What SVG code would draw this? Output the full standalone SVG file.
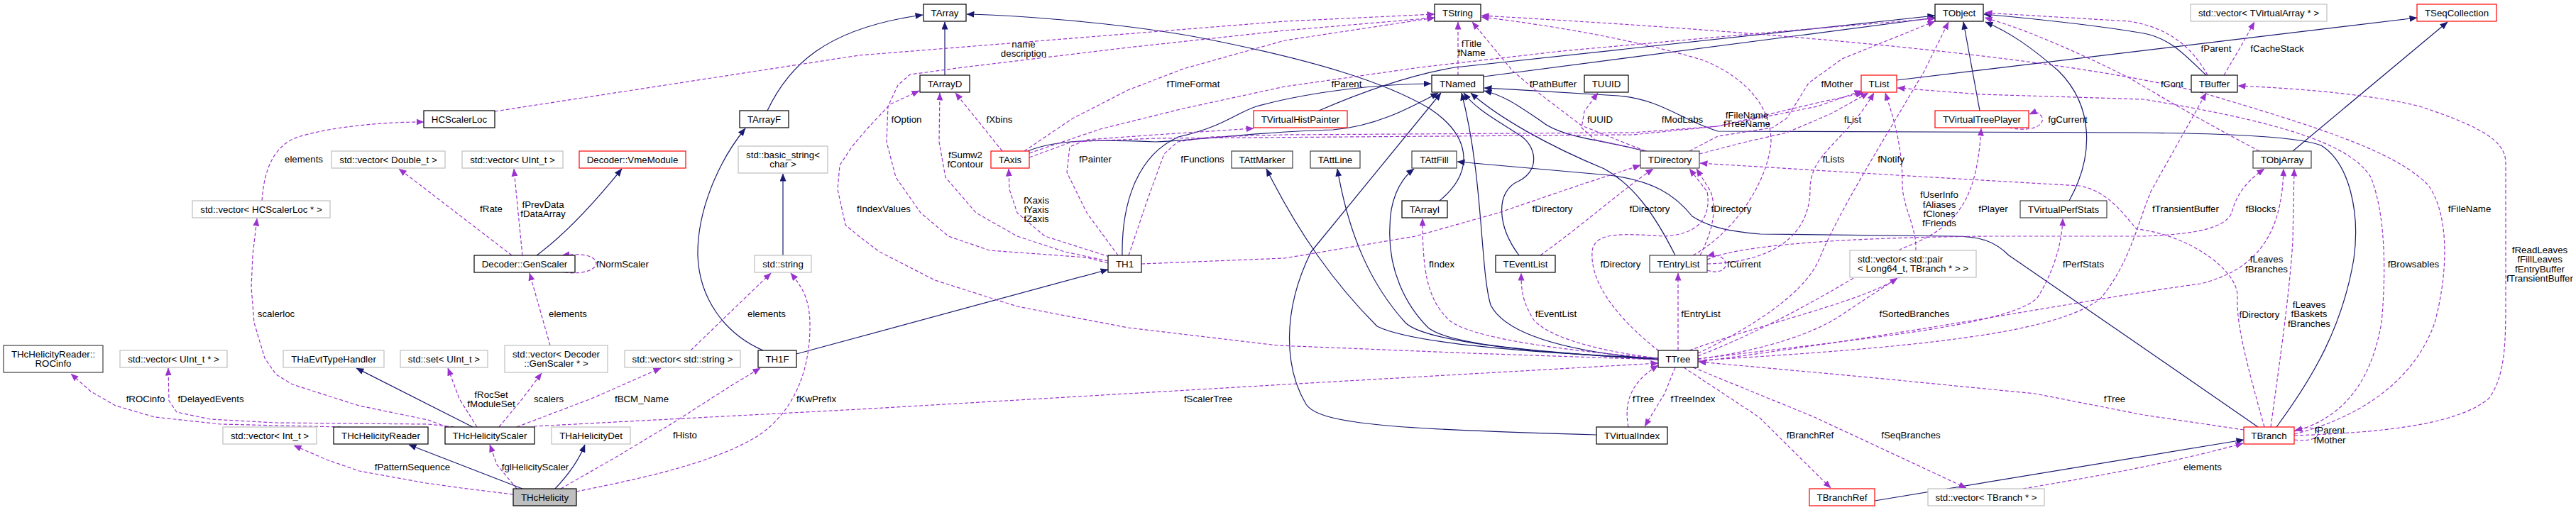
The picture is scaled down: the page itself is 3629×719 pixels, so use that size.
<svg xmlns="http://www.w3.org/2000/svg" width="3629" height="719" viewBox="0 0 3629 719">
<style>
text{font-family:"Liberation Sans",Arial,Helvetica,sans-serif;font-size:13.3px;fill:#000}
.n rect{fill:#fff;stroke:#000;stroke-width:1.2}
.n text{text-anchor:middle}
.g rect{stroke:#bfbfbf}
.r rect{stroke:#ff0000}
.k rect{stroke:#404040}
.f rect{fill:#bfbfbf}
#edges path{fill:none;stroke-width:1.2;stroke-linejoin:round}
#edges .s{stroke:#191970;marker-end:url(#as)}
#edges .u{stroke:#9a32cd;stroke-dasharray:5,3;marker-end:url(#au)}
#edges text{text-anchor:middle}
</style>
<defs>
<marker id="as" markerUnits="userSpaceOnUse" viewBox="0 0 11 9" markerWidth="11" markerHeight="9" refX="10.5" refY="4.5" orient="auto"><path d="M0,0 L11,4.5 L0,9 Z" fill="#191970"/></marker>
<marker id="au" markerUnits="userSpaceOnUse" viewBox="0 0 11 9" markerWidth="11" markerHeight="9" refX="10.5" refY="4.5" orient="auto"><path d="M0,0 L11,4.5 L0,9 Z" fill="#9a32cd"/></marker>
</defs>
<rect width="3629" height="719" fill="#fff"/>
<g id="edges">
<path class="s" d="M1331,106 L1331,31"/>
<path class="s" d="M1081,156 C1110,95 1160,40 1300,21"/>
<path class="s" d="M2028,283 C2080,240 2070,190 2014,153 C1950,115 1850,85 1700,55 C1600,35 1450,22 1362,20"/>
<path class="s" d="M1075,494 C1020,470 985,420 983,360 C982,300 1010,230 1050,181"/>
<path class="s" d="M1122,499 L1561,380"/>
<path class="s" d="M1103,360 L1103,245"/>
<path class="s" d="M756,360 C790,335 830,295 876,238"/>
<path class="s" d="M666,602 L502,519"/>
<path class="s" d="M736,689 L576,627"/>
<path class="s" d="M782,689 C800,670 815,650 824,627"/>
<path class="s" d="M1581,360 C1580,290 1600,220 1660,193 C1720,180 1740,160 1770,150 C1850,128 1950,118 2016,118"/>
<path class="s" d="M1448,213 C1490,195 1560,197 1628,200 C1700,197 1780,185 1878,183 C1940,178 1990,150 2026,131"/>
<path class="s" d="M2336,505 C2100,495 1980,480 1940,460 C1880,400 1830,330 1784,238"/>
<path class="s" d="M2336,506 C2100,495 2000,475 1980,455 C1930,400 1900,330 1884,238"/>
<path class="s" d="M2336,507 C2150,495 2040,485 2012,462 C1980,430 1955,380 1958,320 C1958,285 1970,255 1992,238"/>
<path class="s" d="M2336,507 C2200,495 2120,470 2100,430 C2085,380 2090,250 2059,131"/>
<path class="s" d="M2249,613 C1980,605 1860,600 1840,570 C1810,520 1805,440 1847,355 L2030,131"/>
<path class="s" d="M2140,360 C2110,320 2105,270 2140,255 C2170,240 2165,205 2140,190 C2110,170 2080,155 2062,131"/>
<path class="s" d="M2360,360 C2330,300 2300,260 2260,238 C2180,205 2110,165 2072,131"/>
<path class="s" d="M2316,213 C2260,197 2200,195 2170,170 C2140,150 2120,135 2091,128"/>
<path class="s" d="M3207,602 C3260,530 3300,460 3316,365 C3325,300 3310,230 3270,205 C3230,190 3100,188 3010,187 L2420,185 C2370,170 2340,140 2280,135 C2200,130 2150,127 2091,124"/>
<path class="s" d="M3181,602 L2990,470 L2830,360 C2810,340 2790,333 2750,333 L2480,330 C2420,325 2400,315 2384,305 C2360,275 2330,255 2267,247 L2053,228"/>
<path class="s" d="M2641,706 L3161,620"/>
<path class="s" d="M2090,108 L2726,25"/>
<path class="s" d="M1858,156 C1930,125 1990,105 2050,95 L2726,22"/>
<path class="s" d="M2789,156 L2766,31"/>
<path class="s" d="M2915,283 C2950,220 2950,150 2900,100 C2860,65 2830,45 2797,31"/>
<path class="s" d="M2672,113 L3405,25"/>
<path class="s" d="M3108,106 C3080,80 3060,55 3020,47 C2950,35 2850,25 2795,20"/>
<path class="s" d="M3230,213 L3448,31"/>

<path class="u" d="M2054,106 L2054,31"/>
<text x="2073" y="66">fTitle</text><text x="2073" y="79">fName</text>
<path class="u" d="M728,689 L700,655 L690,627"/>
<text x="754" y="662.5">fglHelicityScaler</text>
<path class="u" d="M723,697 L650,688 L600,681 L506,664 L460,648 L414,628"/>
<text x="581" y="662.5">fPatternSequence</text>
<path class="u" d="M790,689 L872,642 L950,595 L1028,545 L1071,519"/>
<text x="965" y="617.5">fHisto</text>
<path class="u" d="M812,693 C900,675 1000,655 1067,615 C1120,580 1142,520 1141,455 C1140,420 1130,405 1114,385"/>
<text x="1150" y="566.5">fKwPrefix</text>
<path class="u" d="M480,602 L311,598 L218,588 L163,572 L128,552 L100,527"/>
<text x="205" y="566.5">fROCinfo</text>
<path class="u" d="M640,602 L603,598 L389,596 L296,591 L249,581 L238,565 L237,519"/>
<text x="297" y="566.5">fDelayedEvents</text>
<path class="u" d="M672,602 L647,562 L631,519"/>
<text x="692" y="560.5">fRocSet</text><text x="692" y="573.5">fModuleSet</text>
<path class="u" d="M703,602 L736,562 L763,526"/>
<text x="773" y="566.5">scalers</text>
<path class="u" d="M728,602 L833,562 L931,519"/>
<text x="904" y="566.5">fBCM_Name</text>
<path class="u" d="M752,601 L1210,577 L1810,542 L2336,512"/>
<text x="1702" y="566.5">fScalerTree</text>
<path class="u" d="M630,602 L603,592 L506,572 L412,542 L389,528 L373,505 L358,455 L354,405 L356,360 L362,308"/>
<text x="389" y="446.5">scalerloc</text>
<path class="u" d="M721,360 L600,267 L562,238"/>
<text x="692" y="298.5">fRate</text>
<path class="u" d="M736,360 L730,300 L724,238"/>
<text x="765" y="292.5">fPrevData</text><text x="765" y="306">fDataArray</text>
<path class="u" d="M795,384 C830,388 840,376 840,372 C840,362 825,356 792,360"/>
<text x="877" y="376.5">fNormScaler</text>
<path class="u" d="M775,487 L746,385"/>
<text x="800" y="446.5">elements</text>
<path class="u" d="M973,494 L1086,385"/>
<text x="1080" y="446.5">elements</text>
<path class="u" d="M369,283 C372,240 385,205 420,193 C470,178 540,172 597,172"/>
<text x="428" y="228.5">elements</text>
<path class="u" d="M697,157 L1210,78 L1810,30 L2021,20"/>
<text x="1442" y="66.5">name</text><text x="1442" y="79.5">description</text>
<path class="u" d="M1561,371 L1531,363 L1394,353 L1336,333 L1297,300 L1262,250 L1249,200 L1251,150 L1265,120 L1282,105 L1356,95 L1589,67 L1810,43 L2021,25"/>
<text x="1277" y="172.5">fOption</text>
<path class="u" d="M2336,507 L2072,498 L1800,487 L1589,462 L1433,432 L1317,395 L1239,355 L1210,333 L1191,317 L1180,267 L1183,233 L1200,207 L1223,180 L1254,147 L1295,128"/>
<text x="1245" y="298.5">fIndexValues</text>
<path class="u" d="M1561,368 L1500,355 L1433,333 L1375,300 L1332,250 L1323,200 L1324,131"/>
<text x="1360" y="222.5">fSumw2</text><text x="1360" y="235.5">fContour</text>
<path class="u" d="M1412,213 L1346,131"/>
<text x="1408" y="172.5">fXbins</text>
<path class="u" d="M1563,362 L1472,333 L1433,300 L1422,267 L1421,238"/>
<text x="1460" y="286.5">fXaxis</text><text x="1460" y="299.5">fYaxis</text><text x="1460" y="312.5">fZaxis</text>
<path class="u" d="M1443,213 L1511,167 L1589,127 L1667,97 L1810,57 L2021,25"/>
<text x="1681" y="122.5">fTimeFormat</text>
<path class="u" d="M1575,360 L1531,300 L1503,243 L1507,207 L1531,197 L1628,190 L1766,181"/>
<text x="1543" y="228.5">fPainter</text>
<path class="u" d="M1590,360 L1616,283 L1640,217 L1659,200 L1706,193 L1810,190 L2300,187 L2420,178 L2560,145 L2625,131"/>
<text x="1694" y="228.5">fFunctions</text>
<path class="u" d="M1608,372 L1810,364 L1994,333 L2111,300 L2228,260 L2311,233"/>
<text x="2187" y="298.5">fDirectory</text>
<path class="u" d="M1450,216 L1550,182 L1667,153 L1810,122 L2000,95 L2200,72 L2500,45 L2726,26"/>
<text x="1897" y="122.5">fParent</text>
<path class="u" d="M1450,222 L1510,200 L1628,195 L2300,190 L2420,178 L2560,150 L2623,128"/>
<text x="2370" y="172.5">fModLabs</text>
<path class="u" d="M2394,217 L2460,200 L2517,187 L2580,160 L2632,131"/>
<text x="2610" y="172.5">fList</text>
<path class="u" d="M2320,213 L2247,197 L2228,180 L2232,157 L2251,131"/>
<text x="2254" y="172.5">fUUID</text>
<path class="u" d="M2318,213 L2228,177 L2170,133 L2131,100 L2074,31"/>
<text x="2188" y="122.5">fPathBuffer</text>
<path class="u" d="M2380,213 L2420,192 L2497,180 L2517,167 L2548,117 L2595,83 L2726,30"/>
<text x="2588" y="122.5">fMother</text>
<path class="u" d="M2385,360 C2440,330 2490,260 2495,200 C2495,150 2460,110 2400,85 C2300,55 2180,35 2087,24"/>
<text x="2461" y="166.5">fFileName</text><text x="2461" y="179">fTreeName</text>
<path class="u" d="M2405,372 C2500,370 2550,330 2550,267 C2550,215 2600,200 2640,131"/>
<text x="2583" y="228.5">fLists</text>
<path class="u" d="M2380,494 C2500,450 2650,420 2690,380 C2715,340 2680,300 2680,260 C2680,200 2665,160 2656,131"/>
<text x="2732" y="279">fUserInfo</text><text x="2732" y="293">fAliases</text><text x="2732" y="306">fClones</text><text x="2732" y="319">fFriends</text>
<path class="u" d="M2392,498 C2450,470 2540,420 2563,365 C2590,300 2640,220 2711,100 L2745,31"/>
<text x="2664" y="228.5">fNotify</text>
<path class="u" d="M2392,502 C2500,460 2600,400 2680,350 C2760,320 2785,280 2791,181"/>
<text x="2808" y="298.5">fPlayer</text>
<path class="u" d="M2830,180 C2870,188 2882,172 2876,164 C2870,156 2866,158 2859,161"/>
<text x="2913" y="172.5">fgCurrent</text>
<path class="u" d="M2392,506 C2600,480 2830,460 2870,420 C2895,380 2905,340 2906,308"/>
<text x="2935" y="376.5">fPerfStats</text>
<path class="u" d="M2392,506 C2480,495 2560,470 2600,440 L2673,392"/>
<text x="2697" y="446.5">fSortedBranches</text>
<path class="u" d="M2372,518 L2478,588 L2579,688"/>
<text x="2550" y="617.5">fBranchRef</text>
<path class="u" d="M2385,518 L2556,588 L2770,688"/>
<text x="2692" y="617.5">fSeqBranches</text>
<path class="u" d="M2850,689 C2950,672 3050,655 3160,625"/>
<text x="3103" y="662.5">elements</text>
<path class="u" d="M2360,518 L2345,555 L2317,601"/>
<text x="2385" y="566.5">fTreeIndex</text>
<path class="u" d="M2294,602 C2288,570 2295,540 2336,515"/>
<text x="2315" y="566.5">fTree</text>
<path class="u" d="M3161,606 L3020,585 L2867,555 L2633,532 L2393,510"/>
<text x="2979" y="566.5">fTree</text>
<path class="u" d="M2364,494 L2364,385"/>
<text x="2396" y="446.5">fEntryList</text>
<path class="u" d="M2336,505 C2250,495 2180,475 2160,450 C2145,425 2143,410 2143,385"/>
<text x="2192" y="446.5">fEventList</text>
<path class="u" d="M2336,505 C2150,490 2060,470 2040,450 C2010,420 2004,380 2004,308"/>
<text x="2031" y="376.5">fIndex</text>
<path class="u" d="M2337,495 C2280,450 2240,400 2243,355 C2245,325 2290,330 2345,333 C2400,330 2410,300 2405,270 L2380,238"/>
<text x="2283" y="376.5">fDirectory</text>
<path class="u" d="M2170,360 C2230,317 2286,267 2329,238"/>
<text x="2324" y="298.5">fDirectory</text>
<path class="u" d="M2395,360 C2410,330 2420,300 2410,270 L2390,238"/>
<text x="2439" y="298.5">fDirectory</text>
<path class="u" d="M2405,381 C2425,388 2435,376 2430,368 C2425,360 2415,358 2405,361"/>
<text x="2457" y="376.5">fCurrent</text>
<path class="u" d="M2405,366 C2450,345 2600,335 2800,333 L3020,333 C3100,330 3135,320 3144,300 C3150,275 3165,255 3190,238"/>
<text x="3185" y="298.5">fBlocks</text>
<path class="u" d="M2392,510 C2700,470 2950,420 3100,400 C3180,380 3215,330 3217,238"/>
<text x="3193" y="370">fLeaves</text><text x="3193" y="383.5">fBranches</text>
<path class="u" d="M3199,602 C3210,520 3225,420 3230,340 L3232,238"/>
<text x="3253" y="433.5">fLeaves</text><text x="3253" y="447">fBaskets</text><text x="3253" y="460.5">fBranches</text>
<path class="u" d="M3190,602 C3170,530 3150,460 3152,420 C3155,380 3080,330 3010,323 C2990,300 2970,270 2930,262 L2672,247 L2395,230"/>
<text x="3183" y="447.5">fDirectory</text>
<path class="u" d="M3232,608 C3300,590 3340,540 3355,455 C3362,380 3360,300 3340,250 C3310,200 3200,170 3020,140 L2790,133 L2673,124"/>
<text x="3400" y="376.5">fBrowsables</text>
<path class="u" d="M3232,612 C3320,590 3400,540 3430,455 C3450,380 3450,300 3420,260 C3370,210 3250,175 3100,130 C2900,80 2500,45 2087,22"/>
<text x="3479" y="298.5">fFileName</text>
<path class="u" d="M3232,614 C3350,610 3460,600 3506,562 C3530,530 3530,480 3530,420 L3530,230 C3530,200 3500,180 3409,150 C3350,135 3250,125 3153,121"/>
<text x="3578" y="356.5">fReadLeaves</text><text x="3578" y="370">fFillLeaves</text><text x="3578" y="383.5">fEntryBuffer</text><text x="3578" y="397">fTransientBuffer</text>
<path class="u" d="M3232,620 C3262,624 3272,612 3262,606 C3252,600 3245,604 3233,607"/>
<text x="3282" y="611">fParent</text><text x="3282" y="625">fMother</text>
<path class="u" d="M2392,508 C2700,490 2900,470 2960,420 C3000,370 3010,320 3030,270 L3108,131"/>
<text x="3079" y="298.5">fTransientBuffer</text>
<path class="u" d="M3183,213 C3120,180 3050,140 3000,110 C2920,70 2850,40 2796,25"/>
<text x="3060" y="122.5">fCont</text>
<path class="u" d="M3110,106 C3090,70 3060,40 3000,30 L2796,18"/>
<text x="3122" y="72.5">fParent</text>
<path class="u" d="M3133,106 L3156,67 L3176,31"/>
<text x="3208" y="72.5">fCacheStack</text>
</g>

<g id="THcHelicity" class="n f"><rect x="723" y="689" width="89" height="24"/><text x="767.5" y="705.5">THcHelicity</text></g>
<g id="THaHelicityDet" class="n g"><rect x="777" y="602" width="111" height="24"/><text x="832.5" y="618.5">THaHelicityDet</text></g>
<g id="THcHelicityScaler" class="n"><rect x="627" y="602" width="126" height="24"/><text x="690" y="618.5">THcHelicityScaler</text></g>
<g id="THcHelicityReader" class="n"><rect x="470" y="602" width="133" height="24"/><text x="536.5" y="618.5">THcHelicityReader</text></g>
<g id="vecInt" class="n g"><rect x="314" y="602" width="132" height="24"/><text x="380" y="618.5">std::vector&lt; Int_t &gt;</text></g>
<g id="ROCinfo" class="n k"><rect x="5" y="487" width="140" height="38"/><text x="75" y="503.5">THcHelicityReader::</text><text x="75" y="516.5">ROCinfo</text></g>
<g id="vecUIntPtr" class="n g"><rect x="169" y="494" width="151" height="24"/><text x="244.5" y="510.5">std::vector&lt; UInt_t * &gt;</text></g>
<g id="THaEvtTypeHandler" class="n g"><rect x="399" y="494" width="142" height="24"/><text x="470" y="510.5">THaEvtTypeHandler</text></g>
<g id="setUInt" class="n g"><rect x="564" y="494" width="123" height="24"/><text x="625.5" y="510.5">std::set&lt; UInt_t &gt;</text></g>
<g id="vecGenScaler" class="n g"><rect x="711" y="487" width="145" height="38"/><text x="783.5" y="503.5">std::vector&lt; Decoder</text><text x="783.5" y="516.5">::GenScaler * &gt;</text></g>
<g id="vecString" class="n g"><rect x="880" y="494" width="163" height="24"/><text x="961.5" y="510.5">std::vector&lt; std::string &gt;</text></g>
<g id="TH1F" class="n"><rect x="1068" y="494" width="54" height="24"/><text x="1095" y="510.5">TH1F</text></g>
<g id="stdstring" class="n g"><rect x="1063" y="360" width="80" height="24"/><text x="1103" y="376.5">std::string</text></g>
<g id="GenScaler" class="n"><rect x="668" y="360" width="142" height="24"/><text x="739" y="376.5">Decoder::GenScaler</text></g>
<g id="vecHCScalerLoc" class="n g"><rect x="271" y="283" width="194" height="24"/><text x="368" y="299.5">std::vector&lt; HCScalerLoc * &gt;</text></g>
<g id="vecDouble" class="n g"><rect x="467" y="213" width="160" height="24"/><text x="547" y="229.5">std::vector&lt; Double_t &gt;</text></g>
<g id="vecUInt" class="n g"><rect x="651" y="213" width="142" height="24"/><text x="722" y="229.5">std::vector&lt; UInt_t &gt;</text></g>
<g id="VmeModule" class="n r"><rect x="816" y="213" width="150" height="24"/><text x="891" y="229.5">Decoder::VmeModule</text></g>
<g id="basicstring" class="n g"><rect x="1040" y="206" width="126" height="38"/><text x="1103" y="222.5">std::basic_string&lt;</text><text x="1103" y="235.5">char &gt;</text></g>
<g id="HCScalerLoc" class="n"><rect x="597" y="156" width="100" height="24"/><text x="647" y="172.5">HCScalerLoc</text></g>
<g id="TArrayF" class="n"><rect x="1042" y="156" width="69" height="24"/><text x="1076.5" y="172.5">TArrayF</text></g>
<g id="TArray" class="n"><rect x="1301" y="6" width="60" height="24"/><text x="1331" y="22.5">TArray</text></g>
<g id="TArrayD" class="n"><rect x="1296" y="106" width="70" height="24"/><text x="1331" y="122.5">TArrayD</text></g>
<g id="TAxis" class="n r"><rect x="1396" y="213" width="54" height="24"/><text x="1423" y="229.5">TAxis</text></g>
<g id="TH1" class="n"><rect x="1561" y="360" width="47" height="24"/><text x="1584.5" y="376.5">TH1</text></g>
<g id="TVirtualHistPainter" class="n r"><rect x="1766" y="156" width="132" height="24"/><text x="1832" y="172.5">TVirtualHistPainter</text></g>
<g id="TAttMarker" class="n k"><rect x="1735" y="213" width="86" height="24"/><text x="1778" y="229.5">TAttMarker</text></g>
<g id="TAttLine" class="n k"><rect x="1846" y="213" width="70" height="24"/><text x="1881" y="229.5">TAttLine</text></g>
<g id="TAttFill" class="n k"><rect x="1989" y="213" width="63" height="24"/><text x="2020.5" y="229.5">TAttFill</text></g>
<g id="TArrayI" class="n"><rect x="1975" y="283" width="64" height="24"/><text x="2007" y="299.5">TArrayI</text></g>
<g id="TString" class="n"><rect x="2021" y="6" width="65" height="24"/><text x="2053.5" y="22.5">TString</text></g>
<g id="TNamed" class="n"><rect x="2017" y="106" width="73" height="24"/><text x="2053.5" y="122.5">TNamed</text></g>
<g id="TUUID" class="n"><rect x="2232" y="106" width="62" height="24"/><text x="2263" y="122.5">TUUID</text></g>
<g id="TDirectory" class="n k"><rect x="2311" y="213" width="83" height="24"/><text x="2352.5" y="229.5">TDirectory</text></g>
<g id="TEventList" class="n"><rect x="2107" y="360" width="84" height="24"/><text x="2149" y="376.5">TEventList</text></g>
<g id="TEntryList" class="n k"><rect x="2324" y="360" width="81" height="24"/><text x="2364.5" y="376.5">TEntryList</text></g>
<g id="TTree" class="n"><rect x="2336" y="494" width="56" height="24"/><text x="2364" y="510.5">TTree</text></g>
<g id="TVirtualIndex" class="n"><rect x="2249" y="602" width="100" height="24"/><text x="2299" y="618.5">TVirtualIndex</text></g>
<g id="TObject" class="n"><rect x="2726" y="6" width="68" height="24"/><text x="2760" y="22.5">TObject</text></g>
<g id="TList" class="n r"><rect x="2622" y="106" width="50" height="24"/><text x="2647" y="122.5">TList</text></g>
<g id="TVirtualTreePlayer" class="n r"><rect x="2726" y="156" width="132" height="24"/><text x="2792" y="172.5">TVirtualTreePlayer</text></g>
<g id="TVirtualPerfStats" class="n k"><rect x="2846" y="283" width="122" height="24"/><text x="2907" y="299.5">TVirtualPerfStats</text></g>
<g id="vecPair" class="n g"><rect x="2606" y="353" width="178" height="38"/><text x="2617" y="370" text-anchor="start" style="text-anchor:start">std::vector&lt; std::pair</text><text x="2617" y="383" style="text-anchor:start">&lt; Long64_t, TBranch * &gt; &gt;</text></g>
<g id="TBranchRef" class="n r"><rect x="2549" y="689" width="92" height="24"/><text x="2595" y="705.5">TBranchRef</text></g>
<g id="vecTBranch" class="n g"><rect x="2716" y="689" width="164" height="24"/><text x="2798" y="705.5">std::vector&lt; TBranch * &gt;</text></g>
<g id="TBranch" class="n r"><rect x="3161" y="602" width="71" height="24"/><text x="3196.5" y="618.5">TBranch</text></g>
<g id="TBuffer" class="n"><rect x="3087" y="106" width="65" height="24"/><text x="3119.5" y="122.5">TBuffer</text></g>
<g id="vecTVirtualArray" class="n g"><rect x="3086" y="6" width="192" height="24"/><text x="3182" y="22.5">std::vector&lt; TVirtualArray * &gt;</text></g>
<g id="TSeqCollection" class="n r"><rect x="3405" y="6" width="112" height="24"/><text x="3461" y="22.5">TSeqCollection</text></g>
<g id="TObjArray" class="n k"><rect x="3174" y="213" width="82" height="24"/><text x="3215" y="229.5">TObjArray</text></g>
</svg>
